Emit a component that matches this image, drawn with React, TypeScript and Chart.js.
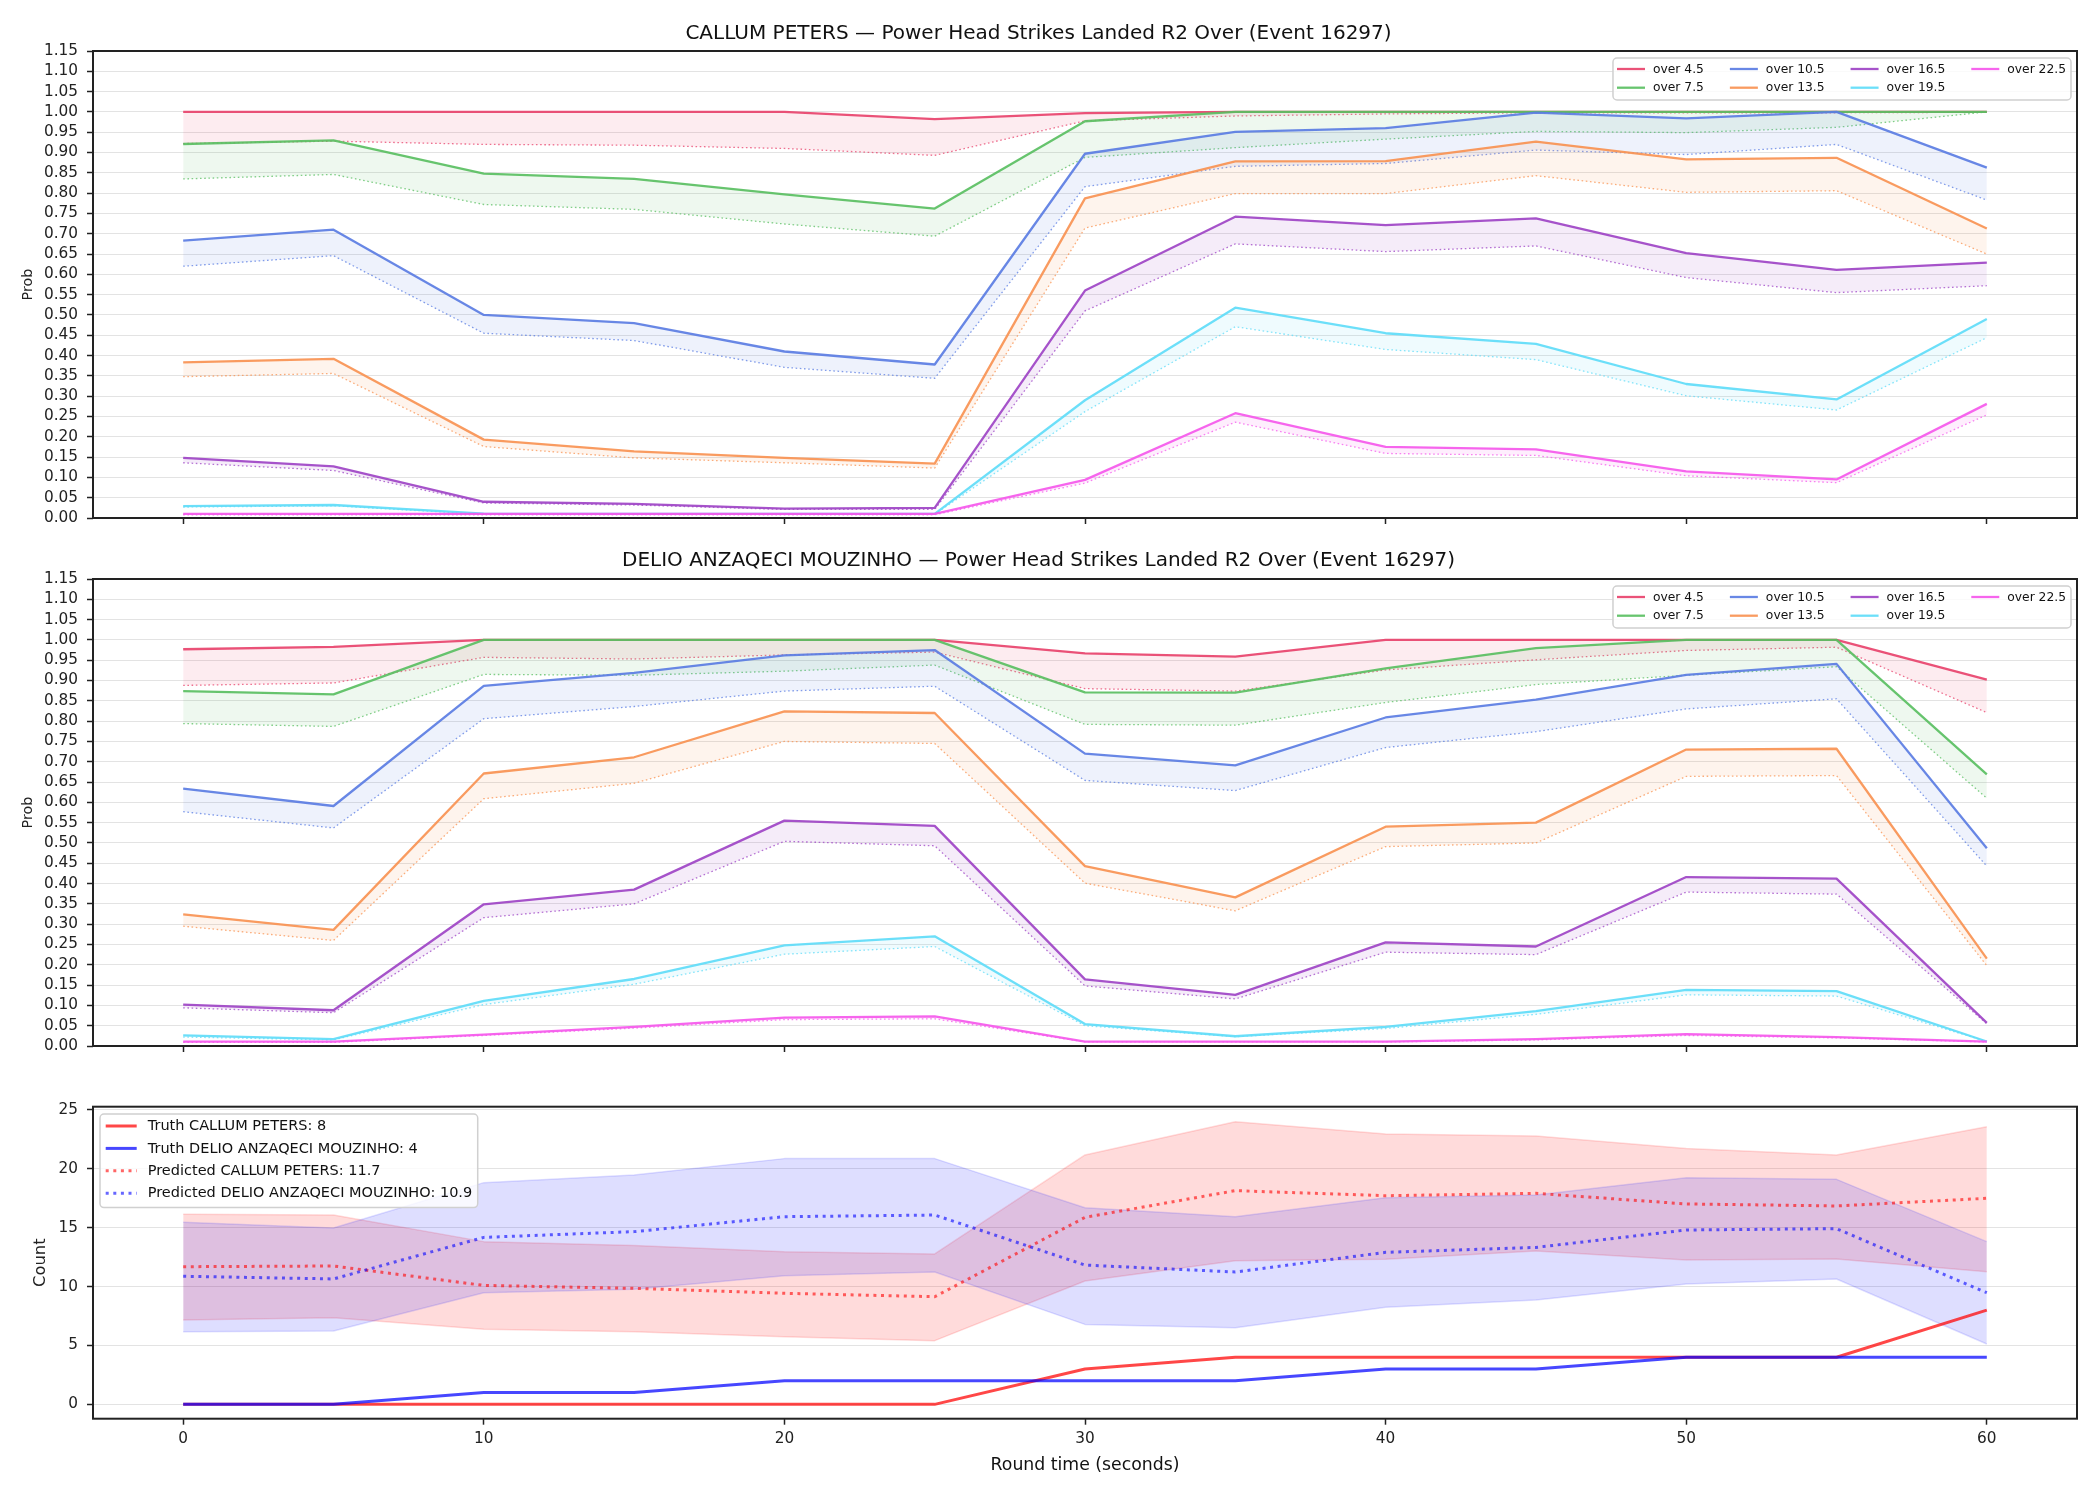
import React, { useEffect, useRef } from 'react';
import { Chart, registerables } from 'chart.js';

Chart.register(...registerables);
Chart.defaults.font.family = "'DejaVu Sans', sans-serif";
Chart.defaults.color = '#222';

// ---- shared axes ----
const TIMES = [0, 5, 10, 15, 20, 25, 30, 35, 40, 45, 50, 55, 60];
const TIME_TICKS = [0, 10, 20, 30, 40, 50, 60];
const PROB_TICKS = [0, 0.05, 0.1, 0.15, 0.2, 0.25, 0.3, 0.35, 0.4, 0.45, 0.5, 0.55, 0.6, 0.65, 0.7, 0.75, 0.8, 0.85, 0.9, 0.95, 1.0, 1.05, 1.1, 1.15];
const COUNT_TICKS = [0, 5, 10, 15, 20, 25];

const FIGHTER_A = 'CALLUM PETERS';
const FIGHTER_B = 'DELIO ANZAQECI MOUZINHO';
const MARKET = 'Power Head Strikes Landed R2 Over (Event 16297)';

const THRESHOLD_LABELS = ['over 4.5', 'over 7.5', 'over 10.5', 'over 13.5', 'over 16.5', 'over 19.5', 'over 22.5'];
const THRESHOLD_COLORS = ['#e8436c', '#5abf62', '#5b7de3', '#f99352', '#9e44c6', '#5fdcf8', '#f558ec'];

// ---- CALLUM PETERS: probability per threshold (solid) and lower companion (dotted) ----
const petersProb = [
  [1.0, 1.0, 1.0, 1.0, 1.0, 0.982, 0.997, 1.0, 1.0, 1.0, 1.0, 1.0, 1.0],
  [0.921, 0.93, 0.848, 0.835, 0.797, 0.762, 0.977, 1.0, 1.0, 1.0, 1.0, 1.0, 1.0],
  [0.683, 0.71, 0.5, 0.48, 0.41, 0.378, 0.897, 0.951, 0.96, 0.998, 0.984, 1.0, 0.863],
  [0.383, 0.392, 0.193, 0.164, 0.148, 0.134, 0.787, 0.878, 0.879, 0.927, 0.883, 0.887, 0.713],
  [0.148, 0.127, 0.04, 0.035, 0.023, 0.025, 0.56, 0.742, 0.721, 0.738, 0.652, 0.611, 0.629],
  [0.029, 0.032, 0.011, 0.01, 0.01, 0.01, 0.29, 0.518, 0.455, 0.429, 0.33, 0.292, 0.49],
  [0.01, 0.01, 0.01, 0.01, 0.01, 0.01, 0.094, 0.258, 0.175, 0.169, 0.115, 0.095, 0.281],
];
const petersProbAlt = [
  [0.922, 0.928, 0.92, 0.918, 0.91, 0.893, 0.978, 0.99, 0.995, 0.998, 0.998, 0.998, 0.999],
  [0.835, 0.846, 0.772, 0.76, 0.724, 0.694, 0.888, 0.912, 0.933, 0.952, 0.949, 0.962, 1.0],
  [0.62, 0.646, 0.455, 0.437, 0.371, 0.344, 0.816, 0.866, 0.873, 0.906, 0.895, 0.92, 0.783],
  [0.348, 0.356, 0.176, 0.148, 0.136, 0.123, 0.714, 0.799, 0.799, 0.843, 0.802, 0.806, 0.65],
  [0.136, 0.117, 0.037, 0.032, 0.021, 0.021, 0.51, 0.675, 0.656, 0.67, 0.592, 0.555, 0.572],
  [0.027, 0.03, 0.009, 0.009, 0.009, 0.009, 0.262, 0.471, 0.415, 0.39, 0.301, 0.266, 0.444],
  [0.008, 0.008, 0.008, 0.008, 0.008, 0.008, 0.086, 0.236, 0.159, 0.154, 0.104, 0.087, 0.254],
];

// ---- DELIO ANZAQECI MOUZINHO ----
const mouzinhoProb = [
  [0.977, 0.983, 1.0, 1.0, 1.0, 1.0, 0.967, 0.959, 1.0, 1.0, 1.0, 1.0, 0.902],
  [0.874, 0.866, 1.0, 1.0, 1.0, 1.0, 0.871, 0.87, 0.93, 0.98, 1.0, 1.0, 0.669],
  [0.634, 0.591, 0.887, 0.919, 0.962, 0.975, 0.72, 0.691, 0.809, 0.853, 0.914, 0.941, 0.487],
  [0.324, 0.286, 0.671, 0.711, 0.824, 0.82, 0.443, 0.366, 0.54, 0.55, 0.73, 0.732, 0.215],
  [0.102, 0.088, 0.349, 0.385, 0.555, 0.542, 0.164, 0.126, 0.255, 0.245, 0.416, 0.412, 0.057],
  [0.026, 0.017, 0.111, 0.165, 0.248, 0.27, 0.054, 0.024, 0.047, 0.086, 0.138, 0.135, 0.011],
  [0.011, 0.011, 0.028, 0.047, 0.07, 0.073, 0.011, 0.011, 0.011, 0.017, 0.029, 0.022, 0.011],
];
const mouzinhoProbAlt = [
  [0.888, 0.894, 0.957, 0.953, 0.963, 0.97, 0.88, 0.874, 0.926, 0.951, 0.974, 0.982, 0.821],
  [0.794, 0.787, 0.915, 0.913, 0.923, 0.938, 0.792, 0.79, 0.846, 0.89, 0.913, 0.934, 0.61],
  [0.577, 0.537, 0.806, 0.836, 0.874, 0.886, 0.654, 0.629, 0.735, 0.774, 0.83, 0.855, 0.443],
  [0.295, 0.26, 0.609, 0.647, 0.75, 0.745, 0.401, 0.333, 0.491, 0.5, 0.664, 0.666, 0.198],
  [0.094, 0.082, 0.316, 0.35, 0.504, 0.493, 0.148, 0.116, 0.231, 0.225, 0.379, 0.374, 0.055],
  [0.022, 0.015, 0.102, 0.152, 0.226, 0.245, 0.05, 0.023, 0.043, 0.078, 0.126, 0.123, 0.011],
  [0.009, 0.009, 0.026, 0.044, 0.065, 0.067, 0.01, 0.01, 0.01, 0.015, 0.026, 0.02, 0.01],
];

// ---- counts ----
const truthPeters = [0, 0, 0, 0, 0, 0, 3, 4, 4, 4, 4, 4, 8];
const truthMouzinho = [0, 0, 1, 1, 2, 2, 2, 2, 3, 3, 4, 4, 4];
const predPeters = [11.69, 11.75, 10.1, 9.85, 9.43, 9.14, 15.88, 18.15, 17.72, 17.92, 17.02, 16.85, 17.5];
const predPetersHigh = [16.14, 16.08, 13.82, 13.5, 12.97, 12.77, 21.18, 24.0, 22.96, 22.79, 21.74, 21.18, 23.58];
const predPetersLow = [7.16, 7.36, 6.37, 6.17, 5.75, 5.41, 10.48, 12.2, 12.32, 13.02, 12.26, 12.34, 11.27];
const predMouzinho = [10.88, 10.65, 14.18, 14.67, 15.94, 16.08, 11.83, 11.24, 12.91, 13.33, 14.81, 14.92, 9.48];
const predMouzinhoHigh = [15.46, 14.98, 18.83, 19.48, 20.87, 20.87, 16.7, 15.94, 17.55, 17.78, 19.25, 19.11, 13.82];
const predMouzinhoLow = [6.17, 6.23, 9.48, 9.77, 10.93, 11.24, 6.79, 6.51, 8.24, 8.86, 10.22, 10.65, 5.12];

// ---- helpers ----
const FONT = "'DejaVu Sans', sans-serif";
const PLOT_LEFT = 93;
const PLOT_RIGHT_PAD = 23;

function rgba(hex: string, a: number) {
  const n = parseInt(hex.slice(1), 16);
  return `rgba(${(n >> 16) & 255}, ${(n >> 8) & 255}, ${n & 255}, ${a})`;
}

const points = (ys: number[]) => TIMES.map((t, i) => ({ x: t, y: ys[i] }));

const framePlugin = {
  id: 'frame',
  afterDatasetsDraw(chart: any) {
    const { ctx, chartArea } = chart;
    ctx.save();
    ctx.strokeStyle = '#222';
    ctx.lineWidth = 2;
    ctx.strokeRect(chartArea.left, chartArea.top, chartArea.right - chartArea.left, chartArea.bottom - chartArea.top);
    ctx.restore();
  },
};

type LegendEntry = { text: string; color: string; width: number; dash?: number[] };
type LegendSpec = {
  items: LegendEntry[];
  columns: number;
  fontSize: number;
  rowH: number;
  handleLen: number;
  handleGap: number;
  colGap: number;
  padL: number;
  padR: number;
  padT: number;
  padB: number;
  corner: 'ne' | 'nw';
  dx: number;
  dy: number;
};

function makeLegend(spec: LegendSpec) {
  return {
    id: 'boxLegend',
    afterDraw(chart: any) {
      const { ctx, chartArea } = chart;
      const { items, columns } = spec;
      const rows = Math.ceil(items.length / columns);
      ctx.save();
      ctx.font = `${spec.fontSize}px ${FONT}`;
      const colW: number[] = [];
      for (let c = 0; c < columns; c++) {
        let w = 0;
        for (let r = 0; r < rows; r++) {
          const it = items[c * rows + r];
          if (it) w = Math.max(w, ctx.measureText(it.text).width);
        }
        colW.push(spec.handleLen + spec.handleGap + w);
      }
      const boxW = spec.padL + colW.reduce((a, b) => a + b, 0) + spec.colGap * (columns - 1) + spec.padR;
      const boxH = spec.padT + (rows - 1) * spec.rowH + spec.padB;
      const x0 = spec.corner === 'ne' ? chartArea.right - spec.dx - boxW : chartArea.left + spec.dx;
      const y0 = chartArea.top + spec.dy;
      const r = 4;
      ctx.beginPath();
      ctx.moveTo(x0 + r, y0);
      ctx.lineTo(x0 + boxW - r, y0);
      ctx.arcTo(x0 + boxW, y0, x0 + boxW, y0 + r, r);
      ctx.lineTo(x0 + boxW, y0 + boxH - r);
      ctx.arcTo(x0 + boxW, y0 + boxH, x0 + boxW - r, y0 + boxH, r);
      ctx.lineTo(x0 + r, y0 + boxH);
      ctx.arcTo(x0, y0 + boxH, x0, y0 + boxH - r, r);
      ctx.lineTo(x0, y0 + r);
      ctx.arcTo(x0, y0, x0 + r, y0, r);
      ctx.closePath();
      ctx.fillStyle = 'rgba(255,255,255,0.8)';
      ctx.fill();
      ctx.strokeStyle = '#d0d0d0';
      ctx.lineWidth = 1.5;
      ctx.stroke();

      let cx = x0 + spec.padL;
      for (let c = 0; c < columns; c++) {
        for (let rr = 0; rr < rows; rr++) {
          const it = items[c * rows + rr];
          if (!it) continue;
          const y = y0 + spec.padT + rr * spec.rowH;
          ctx.beginPath();
          ctx.setLineDash(it.dash || []);
          ctx.strokeStyle = it.color;
          ctx.lineWidth = it.width;
          ctx.lineCap = 'butt';
          ctx.moveTo(cx, y);
          ctx.lineTo(cx + spec.handleLen, y);
          ctx.stroke();
          ctx.setLineDash([]);
          ctx.fillStyle = '#111';
          ctx.textAlign = 'left';
          ctx.textBaseline = 'middle';
          ctx.fillText(it.text, cx + spec.handleLen + spec.handleGap, y + 0.5);
        }
        cx += colW[c] + spec.colGap;
      }
      ctx.restore();
    },
  };
}

const timeAxis = (xHeight: number, showLabels: boolean, title?: any) => ({
  type: 'linear',
  min: -3,
  max: 63,
  afterBuildTicks: (s: any) => {
    s.ticks = TIME_TICKS.map((v) => ({ value: v }));
  },
  afterFit: (s: any) => {
    s.height = xHeight;
  },
  ticks: {
    display: showLabels,
    autoSkip: false,
    maxRotation: 0,
    padding: 5,
    color: '#222',
    font: { size: 15.3 },
    callback: (v: any) => String(v),
  },
  grid: {
    display: true,
    drawOnChartArea: false,
    drawTicks: true,
    tickLength: 6,
    tickWidth: 1.5,
    tickColor: '#222',
  },
  border: { display: false },
  title: title || { display: false },
});

function probConfig(name: string, solid: number[][], dotted: number[][], titlePad: { top: number; bottom: number }, xHeight: number) {
  const datasets: any[] = [];
  const n = THRESHOLD_LABELS.length * 2;
  THRESHOLD_LABELS.forEach((label, k) => {
    const col = THRESHOLD_COLORS[k];
    datasets.push({
      label: `${label} (lower)`,
      data: points(dotted[k]),
      borderColor: rgba(col, 0.75),
      borderWidth: 1.3,
      borderDash: [1.6, 2.6],
      pointRadius: 0,
      fill: false,
      order: n - 2 * k,
    });
    datasets.push({
      label,
      data: points(solid[k]),
      borderColor: rgba(col, 0.92),
      backgroundColor: rgba(col, 0.1),
      borderWidth: 2.3,
      pointRadius: 0,
      fill: '-1',
      borderJoinStyle: 'round',
      order: n - 2 * k - 1,
    });
  });
  return {
    type: 'line',
    data: { datasets },
    options: {
      responsive: false,
      animation: false,
      devicePixelRatio: 1,
      layout: { padding: { top: 0, left: 0, right: PLOT_RIGHT_PAD, bottom: 0 } },
      plugins: {
        legend: { display: false },
        tooltip: { enabled: false },
        title: {
          display: true,
          text: `${name} — ${MARKET}`,
          color: '#111',
          font: { size: 20, weight: 'normal' },
          padding: titlePad,
        },
      },
      scales: {
        x: timeAxis(xHeight, false),
        y: {
          type: 'linear',
          min: 0,
          max: 1.15,
          afterBuildTicks: (s: any) => {
            s.ticks = PROB_TICKS.map((v) => ({ value: v }));
          },
          afterFit: (s: any) => {
            s.width = PLOT_LEFT;
          },
          ticks: {
            autoSkip: false,
            padding: 9,
            color: '#222',
            font: { size: 15.3 },
            callback: (v: any) => Number(v).toFixed(2),
          },
          grid: {
            color: '#e3e3e3',
            lineWidth: 1,
            tickColor: '#222',
            tickLength: 6,
            tickWidth: 1.5,
          },
          border: { display: false },
          title: {
            display: true,
            text: 'Prob',
            color: '#222',
            font: { size: 14.3 },
            padding: { top: 19.4, bottom: 0 },
          },
        },
      },
    },
    plugins: [
      framePlugin,
      makeLegend({
        items: THRESHOLD_LABELS.map((t, k) => ({ text: t, color: rgba(THRESHOLD_COLORS[k], 0.92), width: 2.3 })),
        columns: 4,
        fontSize: 12.3,
        rowH: 18.7,
        handleLen: 28,
        handleGap: 8,
        colGap: 26,
        padL: 4,
        padR: 5,
        padT: 11,
        padB: 12.3,
        corner: 'ne',
        dx: 6,
        dy: 7,
      }),
    ],
  };
}

function countConfig() {
  const RED = '#ff0000';
  const BLUE = '#0000ff';
  const last = TIMES.length - 1;
  const truthALabel = `Truth ${FIGHTER_A}: ${truthPeters[last]}`;
  const truthBLabel = `Truth ${FIGHTER_B}: ${truthMouzinho[last]}`;
  const predALabel = `Predicted ${FIGHTER_A}: ${predPeters[0].toFixed(1)}`;
  const predBLabel = `Predicted ${FIGHTER_B}: ${predMouzinho[0].toFixed(1)}`;
  const base = { pointRadius: 0, borderJoinStyle: 'round' };
  const datasets: any[] = [
    { ...base, label: 'band A low', data: points(predPetersLow), borderColor: rgba(RED, 0.14), borderWidth: 1.5, fill: false, order: 10 },
    { ...base, label: 'band A high', data: points(predPetersHigh), borderColor: rgba(RED, 0.14), backgroundColor: rgba(RED, 0.14), borderWidth: 1.5, fill: '-1', order: 9 },
    { ...base, label: 'band B low', data: points(predMouzinhoLow), borderColor: rgba(BLUE, 0.13), borderWidth: 1.5, fill: false, order: 8 },
    { ...base, label: 'band B high', data: points(predMouzinhoHigh), borderColor: rgba(BLUE, 0.13), backgroundColor: rgba(BLUE, 0.13), borderWidth: 1.5, fill: '-1', order: 7 },
    { ...base, label: truthALabel, data: points(truthPeters), borderColor: rgba(RED, 0.72), borderWidth: 3, fill: false, order: 6 },
    { ...base, label: truthBLabel, data: points(truthMouzinho), borderColor: rgba(BLUE, 0.72), borderWidth: 3, fill: false, order: 5 },
    { ...base, label: predALabel, data: points(predPeters), borderColor: rgba(RED, 0.6), borderWidth: 3, borderDash: [3, 4.6], fill: false, order: 4 },
    { ...base, label: predBLabel, data: points(predMouzinho), borderColor: rgba(BLUE, 0.6), borderWidth: 3, borderDash: [3, 4.6], fill: false, order: 3 },
  ];
  return {
    type: 'line',
    data: { datasets },
    options: {
      responsive: false,
      animation: false,
      devicePixelRatio: 1,
      layout: { padding: { top: 36.7, left: 0, right: PLOT_RIGHT_PAD, bottom: 0 } },
      plugins: {
        legend: { display: false },
        tooltip: { enabled: false },
        title: { display: false },
      },
      scales: {
        x: timeAxis(81.3, true, {
          display: true,
          text: 'Round time (seconds)',
          color: '#111',
          font: { size: 17.3 },
          padding: { top: 0, bottom: 23.8 },
        }),
        y: {
          type: 'linear',
          min: -1.22,
          max: 25.28,
          afterBuildTicks: (s: any) => {
            s.ticks = COUNT_TICKS.map((v) => ({ value: v }));
          },
          afterFit: (s: any) => {
            s.width = PLOT_LEFT;
          },
          ticks: {
            autoSkip: false,
            padding: 9,
            color: '#222',
            font: { size: 15.3 },
            callback: (v: any) => String(v),
          },
          grid: {
            color: '#e3e3e3',
            lineWidth: 1,
            tickColor: '#222',
            tickLength: 6,
            tickWidth: 1.5,
          },
          border: { display: false },
          title: {
            display: true,
            text: 'Count',
            color: '#222',
            font: { size: 16.4 },
            padding: { top: 31, bottom: 0 },
          },
        },
      },
    },
    plugins: [
      framePlugin,
      makeLegend({
        items: [
          { text: truthALabel, color: rgba(RED, 0.72), width: 3 },
          { text: truthBLabel, color: rgba(BLUE, 0.72), width: 3 },
          { text: predALabel, color: rgba(RED, 0.6), width: 3, dash: [3, 4.6] },
          { text: predBLabel, color: rgba(BLUE, 0.6), width: 3, dash: [3, 4.6] },
        ],
        columns: 1,
        fontSize: 14.5,
        rowH: 22.4,
        handleLen: 31,
        handleGap: 11,
        colGap: 0,
        padL: 5.7,
        padR: 5.5,
        padT: 12,
        padB: 14.4,
        corner: 'nw',
        dx: 7,
        dy: 7.3,
      }),
    ],
  };
}

function ChartPanel({ top, height, build }: { top: number; height: number; build: () => any }) {
  const ref = useRef<HTMLCanvasElement>(null);
  useEffect(() => {
    const chart = new Chart(ref.current as HTMLCanvasElement, build());
    return () => chart.destroy();
  }, [build]);
  return (
    <canvas
      ref={ref}
      width={2100}
      height={height}
      style={{ position: 'absolute', left: 0, top, width: 2100, height, display: 'block' }}
    />
  );
}

const buildPeters = () => probConfig(FIGHTER_A, petersProb, petersProbAlt, { top: 22, bottom: 5 }, 24);
const buildMouzinho = () => probConfig(FIGHTER_B, mouzinhoProb, mouzinhoProbAlt, { top: 19, bottom: 6 }, 24);
const buildCounts = () => countConfig();

export default function App() {
  useEffect(() => {
    document.body.style.margin = '0';
    document.body.style.background = '#ffffff';
  }, []);
  return (
    <div style={{ position: 'absolute', left: 0, top: 0, width: 2100, height: 1500, background: '#ffffff' }}>
      <ChartPanel top={0} height={542} build={buildPeters} />
      <ChartPanel top={530} height={540} build={buildMouzinho} />
      <ChartPanel top={1070} height={430} build={buildCounts} />
    </div>
  );
}
